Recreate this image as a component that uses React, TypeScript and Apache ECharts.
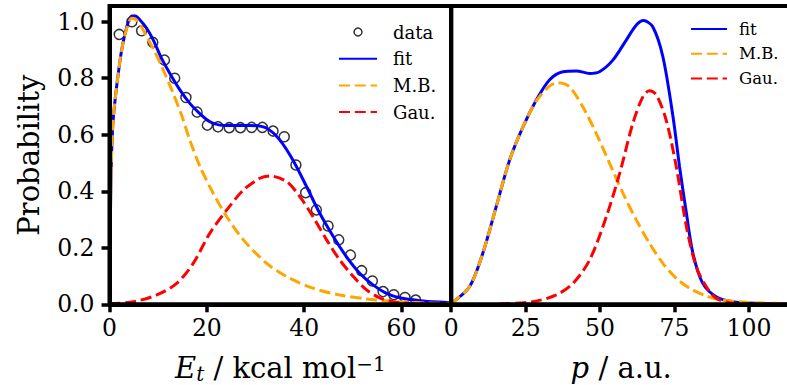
import { useEffect, useRef } from 'react';
import * as echarts from 'echarts';

const FONT = 'DejaVu Serif';

// Left panel: translational energy distribution
const etTicks = [0, 20, 40, 60];
const probTicks = [0, 0.2, 0.4, 0.6, 0.8, 1.0];
const pTicks = [0, 25, 50, 75, 100];

const etData: [number, number][] = [
  [2.0, 0.955], [4.6, 1.0], [6.6, 0.968], [8.9, 0.927], [11.3, 0.864], [13.4, 0.8],
  [15.7, 0.732], [18.0, 0.68], [20.1, 0.634], [22.3, 0.628], [24.6, 0.625], [26.9, 0.625],
  [29.2, 0.626], [31.4, 0.626], [33.6, 0.613], [35.9, 0.593], [38.3, 0.493], [40.3, 0.395],
  [42.5, 0.334], [44.9, 0.277], [47.1, 0.228], [49.5, 0.174], [51.8, 0.119], [54.0, 0.0825],
  [56.2, 0.045], [58.4, 0.034], [60.7, 0.024], [62.9, 0.015],
];

const etFit: [number, number][] = [
  [0, 0], [0.3, 0.45], [0.66, 0.63], [1.13, 0.72], [1.81, 0.817], [2.5, 0.9], [3.53, 0.98], [4.56, 1.02],
  [5.3, 1.02], [6.26, 1.006], [7.64, 0.977], [9.0, 0.935], [10.7, 0.87], [12.4, 0.817],
  [14.5, 0.758], [16.5, 0.711], [18.6, 0.674], [20.6, 0.646], [22.7, 0.634], [24.1, 0.633],
  [28.9, 0.633], [32.3, 0.623], [35.0, 0.581], [37.7, 0.51], [40.5, 0.416], [43.2, 0.322],
  [46.0, 0.239], [48.7, 0.168], [51.4, 0.11], [54.2, 0.068], [56.9, 0.039], [59.65, 0.023],
  [63.8, 0.013], [69.2, 0.006], [70.2, 0.005],
];

const etMB: [number, number][] = [
  [0, 0], [0.3, 0.45], [0.66, 0.63], [1.13, 0.72], [1.81, 0.817], [2.5, 0.9], [3.53, 0.975], [4.56, 1.012],
  [5.4, 1.008], [6.3, 0.99], [7.64, 0.947], [9.3, 0.894], [11.05, 0.829], [12.8, 0.758],
  [14.8, 0.67], [16.5, 0.581], [18.6, 0.487], [21.3, 0.393], [24.1, 0.31], [27.5, 0.228],
  [32.3, 0.145], [36.4, 0.098], [41.8, 0.057], [47.3, 0.033], [52.8, 0.019], [59.65, 0.009],
  [66.4, 0.004], [70.2, 0.003],
];

const etGau: [number, number][] = [
  [0, 0.002], [4.9, 0.009], [9.7, 0.033], [13.8, 0.074], [17.2, 0.145], [20.6, 0.251],
  [24.1, 0.334], [27.5, 0.404], [30.9, 0.446], [33.0, 0.454], [36.4, 0.434], [39.1, 0.381],
  [41.8, 0.31], [44.6, 0.228], [47.3, 0.157], [50.1, 0.098], [52.8, 0.051], [55.5, 0.023],
  [58.3, 0.009], [61.7, 0.003], [70.2, 0.001],
];

// Right panel: p distribution
const pFit: [number, number][] = [
  [0, 0.003], [6.15, 0.062], [10.6, 0.18], [15.1, 0.345], [19.6, 0.51], [24.1, 0.628],
  [28.6, 0.723], [33.0, 0.794], [37.5, 0.823], [42.0, 0.826], [46.5, 0.817], [49.8, 0.823],
  [54.3, 0.864], [58.8, 0.935], [62.2, 0.988], [64.6, 1.004], [67.7, 0.982], [71.1, 0.876],
  [74.5, 0.664], [76.7, 0.487], [79.0, 0.322], [81.2, 0.18], [84.5, 0.074], [89.0, 0.027],
  [94.6, 0.009], [102.5, 0.003], [114, 0.001],
];

const pMB: [number, number][] = [
  [0, 0.003], [6.15, 0.062], [10.6, 0.18], [15.1, 0.345], [19.6, 0.51], [24.1, 0.628],
  [28.6, 0.72], [33.0, 0.772], [35.8, 0.784], [39.7, 0.77], [44.2, 0.699], [48.7, 0.605],
  [53.2, 0.499], [57.7, 0.393], [62.2, 0.298], [66.6, 0.216], [71.1, 0.145], [75.6, 0.092],
  [80.1, 0.057], [85.7, 0.029], [91.3, 0.015], [99.1, 0.007], [114, 0.002],
];

const pGau: [number, number][] = [
  [16.2, 0.001], [27.4, 0.009], [35.3, 0.033], [40.9, 0.074], [46.5, 0.157], [52.1, 0.31],
  [56.6, 0.464], [61.0, 0.64], [64.4, 0.735], [66.6, 0.756], [68.9, 0.741], [72.2, 0.652],
  [75.6, 0.487], [79.0, 0.275], [82.3, 0.133], [85.7, 0.062], [89.0, 0.021], [93.5, 0.006],
  [100, 0.001],
];

const BLUE = '#0000ff';
const ORANGE = '#ffa500';
const RED = '#ff0000';
const DASH = [11, 4.8];

const axisCommon = {
  z: 6,
  axisLine: { show: true, onZero: false, lineStyle: { color: '#000', width: 4 } },
  axisTick: { show: true, inside: false, length: 8, lineStyle: { color: '#000', width: 3.5 } },
  splitLine: { show: false },
};

const lineSeries = (name: string, data: [number, number][], color: string, dashed: boolean, idx: number) => ({
  type: 'line',
  name,
  data,
  xAxisIndex: idx,
  yAxisIndex: idx,
  symbol: 'none',
  smooth: 0.3,
  clip: true,
  lineStyle: { color, width: 3, type: dashed ? DASH : 'solid' },
  itemStyle: { color },
  z: 3,
});

const hiddenSymbol = { opacity: 0 };

export default function App() {
  const ref = useRef<HTMLDivElement>(null);
  useEffect(() => {
    const chart = echarts.init(ref.current!, null, { renderer: 'svg' });
    const option: any = {
      animation: false,
      backgroundColor: '#fff',
      textStyle: { fontFamily: FONT, color: '#000' },
      grid: [
        { z: 6, left: 109.5, top: 6, width: 341.7, height: 298.3, show: true, borderColor: '#000', borderWidth: 4, backgroundColor: 'transparent', containLabel: false, outerBoundsMode: 'none' },
        { z: 6, left: 451.2, top: 6, width: 340, height: 298.3, show: true, borderColor: '#000', borderWidth: 4, backgroundColor: 'transparent', containLabel: false, outerBoundsMode: 'none' },
      ],
      xAxis: [
        {
          ...axisCommon,
          type: 'value', gridIndex: 0, min: 0, max: 70.2, interval: 20,
          axisTick: { ...axisCommon.axisTick, customValues: etTicks },
          axisLabel: { customValues: etTicks, margin: 12, fontFamily: FONT, fontSize: 23.5, color: '#000' },
          name: '{it|E}{sub|t}{rm| / kcal mol}{sup|−1}',
          nameLocation: 'middle', nameGap: 48, nameMoveOverlap: false,
          nameTextStyle: {
            fontFamily: FONT, fontSize: 29, color: '#000',
            rich: {
              it: { fontFamily: FONT, fontStyle: 'italic', fontSize: 29, lineHeight: 32, color: '#000' },
              sub: { fontFamily: FONT, fontStyle: 'italic', fontSize: 20, lineHeight: 32, verticalAlign: 'bottom', padding: [0, 0, 0, 0], color: '#000' },
              rm: { fontFamily: FONT, fontSize: 29, lineHeight: 32, color: '#000' },
              sup: { fontFamily: FONT, fontSize: 20, lineHeight: 32, verticalAlign: 'top', padding: [2, 0, 0, 0], color: '#000' },
            },
          },
        },
        {
          ...axisCommon,
          type: 'value', gridIndex: 1, min: 0, max: 114.2, interval: 25,
          axisTick: { ...axisCommon.axisTick, customValues: pTicks },
          axisLabel: { customValues: pTicks, margin: 12, fontFamily: FONT, fontSize: 23.5, color: '#000' },
          name: '{it|p}{rm| / a.u.}',
          nameLocation: 'middle', nameGap: 48, nameMoveOverlap: false,
          nameTextStyle: {
            fontFamily: FONT, fontSize: 29, color: '#000',
            rich: {
              it: { fontFamily: FONT, fontStyle: 'italic', fontSize: 29, lineHeight: 32, color: '#000' },
              rm: { fontFamily: FONT, fontSize: 29, lineHeight: 32, color: '#000' },
            },
          },
        },
      ],
      yAxis: [
        {
          ...axisCommon,
          type: 'value', gridIndex: 0, min: 0, max: 1.0556, interval: 0.2,
          axisTick: { ...axisCommon.axisTick, customValues: probTicks },
          axisLabel: { customValues: probTicks, margin: 15, fontFamily: FONT, fontSize: 23.5, color: '#000', formatter: (v: number) => v.toFixed(1) },
          name: 'Probability', nameLocation: 'middle', nameGap: 66, nameMoveOverlap: false,
          nameTextStyle: { fontFamily: FONT, fontSize: 29, color: '#000' },
        },
        {
          z: 6,
          type: 'value', gridIndex: 1, min: 0, max: 1.0556,
          axisLine: { show: true, onZero: false, lineStyle: { color: '#000', width: 4 } },
          axisTick: { show: false }, axisLabel: { show: false }, splitLine: { show: false },
        },
      ],
      legend: [
        {
          orient: 'vertical', left: 338, top: 22, padding: 0, itemGap: 6.7,
          itemWidth: 38, itemHeight: 8, selectedMode: false,
          textStyle: { fontFamily: FONT, fontSize: 18, lineHeight: 20, color: '#000', padding: [0, 0, 0, 11] },
          data: [
            { name: 'data', icon: 'circle', itemStyle: { color: 'rgba(0,0,0,0)', borderColor: '#000', borderWidth: 1.5 } },
            { name: 'fit', itemStyle: hiddenSymbol },
            { name: 'M.B.', itemStyle: hiddenSymbol },
            { name: 'Gau.', itemStyle: hiddenSymbol },
          ],
        },
        {
          orient: 'vertical', left: 690, top: 19.5, padding: 0, itemGap: 5.8,
          itemWidth: 36, itemHeight: 8, selectedMode: false,
          textStyle: { fontFamily: FONT, fontSize: 16.5, lineHeight: 19, color: '#000', padding: [0, 0, 0, 7] },
          data: [
            { name: 'fit', itemStyle: hiddenSymbol },
            { name: 'M.B.', itemStyle: hiddenSymbol },
            { name: 'Gau.', itemStyle: hiddenSymbol },
          ],
        },
      ],
      series: [
        {
          type: 'scatter', name: 'data', data: etData, xAxisIndex: 0, yAxisIndex: 0,
          symbol: 'circle', symbolSize: 10,
          itemStyle: { color: 'rgba(0,0,0,0)', borderColor: '#000', borderWidth: 1.5 },
          z: 2,
        },
        lineSeries('fit', etFit, BLUE, false, 0),
        lineSeries('M.B.', etMB, ORANGE, true, 0),
        lineSeries('Gau.', etGau, RED, true, 0),
        lineSeries('fit', pFit, BLUE, false, 1),
        lineSeries('M.B.', pMB, ORANGE, true, 1),
        lineSeries('Gau.', pGau, RED, true, 1),
      ],
    };
    chart.setOption(option);
    return () => chart.dispose();
  }, []);
  return <div ref={ref} style={{ position: 'absolute', left: 0, top: 0, width: 787, height: 385, background: '#fff' }} />;
}
